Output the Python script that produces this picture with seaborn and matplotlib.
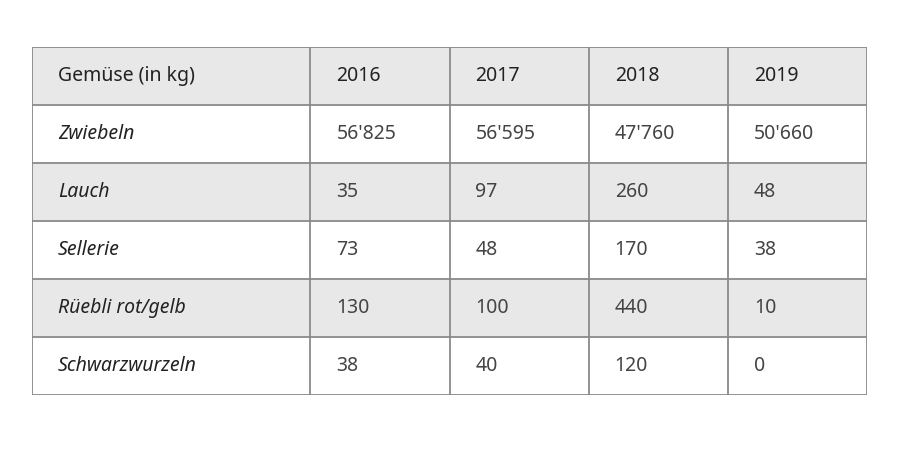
import numpy as np
import matplotlib.pyplot as plt
import seaborn as sns
from matplotlib.colors import ListedColormap

# --- table content ---
header = ["Gemüse (in kg)", "2016", "2017", "2018", "2019"]
gemuese = ["Zwiebeln", "Lauch", "Sellerie", "Rüebli rot/gelb", "Schwarzwurzeln"]
v2016 = ["56'825", "35", "73", "130", "38"]
v2017 = ["56'595", "97", "48", "100", "40"]
v2018 = ["47'760", "260", "170", "440", "120"]
v2019 = ["50'660", "48", "38", "10", "0"]

plt.rcParams["font.family"] = "Noto Sans"

# shading: header grey, then alternating white/grey rows
shade = np.array([1, 0, 1, 0, 1, 0], dtype=float)
# first column spans two units
grid = np.repeat(shade[:, None], 6, axis=1)

fig = plt.figure(figsize=(9, 4.5), dpi=100)
ax = fig.add_axes([32/900, 55/450, 835/900, 348/450])
sns.heatmap(grid, ax=ax, cmap=ListedColormap(["#ffffff", "#e8e8e8"]),
            cbar=False, vmin=0, vmax=1, xticklabels=False, yticklabels=False)

col_starts = [0, 2, 3, 4, 5]
lc = "#8a8a8a"
for x in [0, 2, 3, 4, 5, 6]:
    ax.axvline(x, color=lc, lw=1.3)
for y in range(7):
    ax.axhline(y, color=lc, lw=1.3)

pad = 26 / (835 / 6)
fs = 14
for j, h in enumerate(header):
    ax.text(col_starts[j] + pad, 0.5, h, ha="left", va="center",
            fontsize=fs, fontweight="bold", color="#222222")

cols = [v2016, v2017, v2018, v2019]
for i, name in enumerate(gemuese):
    y = i + 1.5
    ax.text(pad, y, name, ha="left", va="center", fontsize=fs,
            fontweight="bold", fontstyle="italic", color="#222222")
    for j, col in enumerate(cols):
        ax.text(col_starts[j + 1] + pad, y, col[i], ha="left", va="center",
                fontsize=fs, color="#444444")

fig.savefig("out.png", dpi=100)
